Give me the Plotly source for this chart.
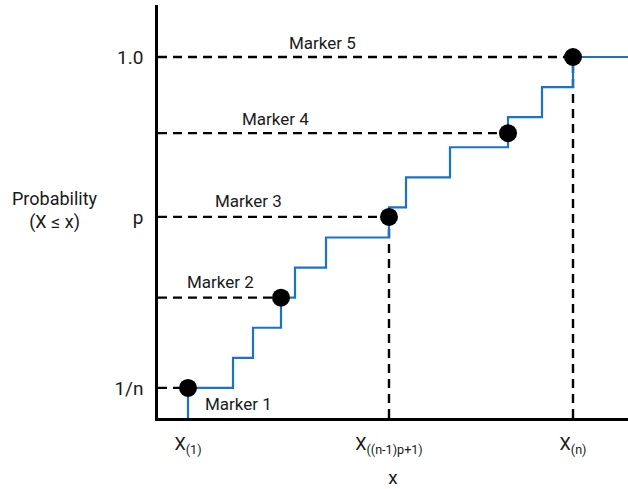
import plotly.graph_objects as go

# Step-function (empirical CDF) data, n = 12
n = 12
step_x = [3.0, 7.5, 9.5, 12.3, 13.7, 16.8, 23.1, 24.8, 29.2, 35.0, 38.4, 41.5]
step_y = [k / n for k in range(1, n + 1)]
x_end = 47.0
p = 0.557

# Highlighted markers
marker_names = ["Marker 1", "Marker 2", "Marker 3", "Marker 4", "Marker 5"]
marker_x = [3.0, 12.3, 23.1, 35.0, 41.5]
marker_y = [1 / n, 4 / n, p, 0.789, 1.0]

# Label positions (data coordinates)
label_x = [8.0, 6.2, 9.0, 11.7, 16.4]
label_y = [0.039, 0.377, 0.60, 0.827, 1.04]

# Axis ticks
ytick_vals = [1 / n, p, 1.0]
ytick_text = ["1/n", "p", "1.0"]
xtick_vals = [3.0, 23.1, 41.5]
xtick_text = ["X<sub>(1)</sub>", "X<sub>((n-1)p+1)</sub>", "X<sub>(n)</sub>"]

FONT = "Roboto, 'Liberation Sans', sans-serif"
TXT = "#1a1a1a"
BLUE = "#1b74c2"
DASH = "9px,6px"

fig = go.Figure()

# Horizontal dashed guides from the y axis to each marker
for mx, my in zip(marker_x, marker_y):
    fig.add_trace(go.Scatter(x=[0, mx], y=[my, my], mode="lines",
                             line=dict(color="black", width=2.4, dash=DASH),
                             hoverinfo="skip", showlegend=False))

# Vertical dashed guides for the quantile and the maximum
for vx, vy in [(marker_x[2], marker_y[2]), (marker_x[4], marker_y[4])]:
    fig.add_trace(go.Scatter(x=[vx, vx], y=[0, vy], mode="lines",
                             line=dict(color="black", width=2.4, dash=DASH),
                             hoverinfo="skip", showlegend=False))

# Step line
sx = [step_x[0]] + step_x + [x_end]
sy = [0] + step_y + [1.0]
fig.add_trace(go.Scatter(x=sx, y=sy, mode="lines", line_shape="hv",
                         line=dict(color=BLUE, width=2.2),
                         hoverinfo="skip", showlegend=False))

# Markers
fig.add_trace(go.Scatter(x=marker_x, y=marker_y, mode="markers",
                         marker=dict(color="black", size=18),
                         hoverinfo="skip", showlegend=False, cliponaxis=False))

# Marker labels
for name, lx, ly in zip(marker_names, label_x, label_y):
    fig.add_annotation(x=lx, y=ly, text=name, showarrow=False,
                       font=dict(family=FONT, size=17, color=TXT))

# Y axis title (horizontal)
fig.add_annotation(xref="paper", yref="y", x=-0.219, y=0.575, xanchor="center",
                   text="Probability<br>(X ≤ x)", showarrow=False,
                   font=dict(family=FONT, size=18, color=TXT), align="center")

fig.update_layout(
    width=628, height=489,
    margin=dict(l=158, r=0, t=5, b=71),
    plot_bgcolor="white", paper_bgcolor="white",
    font=dict(family=FONT, size=17, color=TXT),
    xaxis=dict(range=[0, x_end], showgrid=False, zeroline=False,
               showline=True, linecolor="black", linewidth=2.5,
               tickvals=xtick_vals, ticktext=xtick_text, ticks="",
               ticklabelstandoff=8, tickfont=dict(size=18),
               title=dict(text="x", font=dict(size=19), standoff=17),
               fixedrange=True),
    yaxis=dict(range=[0, 1.144], showgrid=False, zeroline=False,
               showline=True, linecolor="black", linewidth=2.5,
               tickvals=ytick_vals, ticktext=ytick_text, ticks="",
               ticklabelstandoff=8, tickfont=dict(size=19),
               fixedrange=True),
)

fig.write_html("out.html", config={"displayModeBar": False},
               post_script="document.body.style.margin='0';")
